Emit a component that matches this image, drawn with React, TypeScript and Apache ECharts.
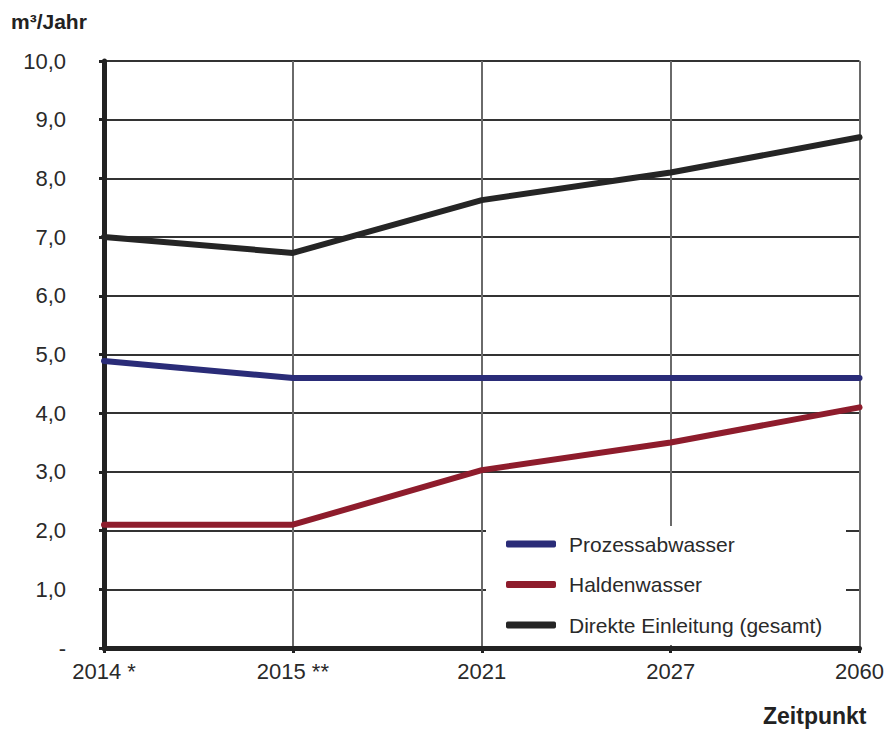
import React, { useEffect, useRef } from "react";
import * as echarts from "echarts";

const categories = ["2014 *", "2015 **", "2021", "2027", "2060"];
const prozessabwasser = [4.89, 4.6, 4.6, 4.6, 4.6];
const haldenwasser = [2.1, 2.1, 3.03, 3.5, 4.1];
const direkteEinleitung = [7.0, 6.73, 7.63, 8.1, 8.7];
const seriesNames = ["Prozessabwasser", "Haldenwasser", "Direkte Einleitung (gesamt)"];
const yUnit = "m³/Jahr";
const xTitle = "Zeitpunkt";

export default function App() {
  const ref = useRef<HTMLDivElement>(null);
  useEffect(() => {
    if (!ref.current) return;
    const chart = echarts.init(ref.current, undefined, { renderer: "svg" });
    const font = "Liberation Sans, Arial, sans-serif";
    const mk = (name: string, data: number[], color: string) => ({
      name,
      type: "line",
      data,
      symbol: "none",
      lineStyle: { color, width: 6, cap: "round", join: "round" },
      itemStyle: { color },
      z: 5,
    });
    chart.setOption({
      animation: false,
      backgroundColor: "#ffffff",
      grid: { left: 104, right: 25, top: 61, bottom: 83, containLabel: false },
      xAxis: {
        type: "category",
        data: categories,
        boundaryGap: false,
        axisLine: { show: true, lineStyle: { color: "#222", width: 5 } },
        axisTick: { show: true, alignWithLabel: true, length: 5, lineStyle: { color: "#222", width: 3 } },
        axisLabel: { color: "#2a2a2a", fontSize: 22, fontFamily: font, margin: 12 },
        splitLine: { show: true, lineStyle: { color: "#6a6a6a", width: 2 } },
      },
      yAxis: {
        type: "value",
        min: 0,
        max: 10,
        interval: 1,
        axisLine: { show: true, lineStyle: { color: "#222", width: 5 } },
        axisTick: { show: true, length: 5, lineStyle: { color: "#222", width: 3 } },
        axisLabel: {
          color: "#2a2a2a",
          fontSize: 22,
          fontFamily: font,
          margin: 38,
          formatter: (v: number) => (v === 0 ? "-" : v.toFixed(1).replace(".", ",")),
        },
        splitLine: { show: true, lineStyle: { color: "#333", width: 2 } },
      },
      legend: {
        show: true,
        orient: "vertical",
        left: 506,
        top: 532,
        padding: 0,
        itemWidth: 50,
        itemHeight: 7,
        itemGap: 16.5,
        icon: "roundRect",
        data: seriesNames,
        textStyle: { color: "#2a2a2a", fontSize: 21, fontFamily: font, lineHeight: 24, padding: [0, 0, 0, 8] },
      },
      graphic: [
        {
          type: "rect",
          z: 1,
          shape: { x: 486, y: 526, width: 360, height: 119 },
          style: { fill: "#ffffff" },
        },
        {
          type: "text",
          left: 11,
          top: 11,
          style: { text: yUnit, fontSize: 21, fontWeight: "bold", fontFamily: font, fill: "#222" },
        },
        {
          type: "text",
          left: 763,
          top: 704,
          style: { text: xTitle, fontSize: 23, fontWeight: "bold", fontFamily: font, fill: "#222" },
        },
      ],
      series: [
        mk(seriesNames[0], prozessabwasser, "#2a2c78"),
        mk(seriesNames[1], haldenwasser, "#8e1c2c"),
        mk(seriesNames[2], direkteEinleitung, "#252525"),
      ],
    });
    return () => chart.dispose();
  }, []);
  return (
    <div
      ref={ref}
      style={{ position: "fixed", left: 0, top: 0, width: 887, height: 731 }}
    />
  );
}
